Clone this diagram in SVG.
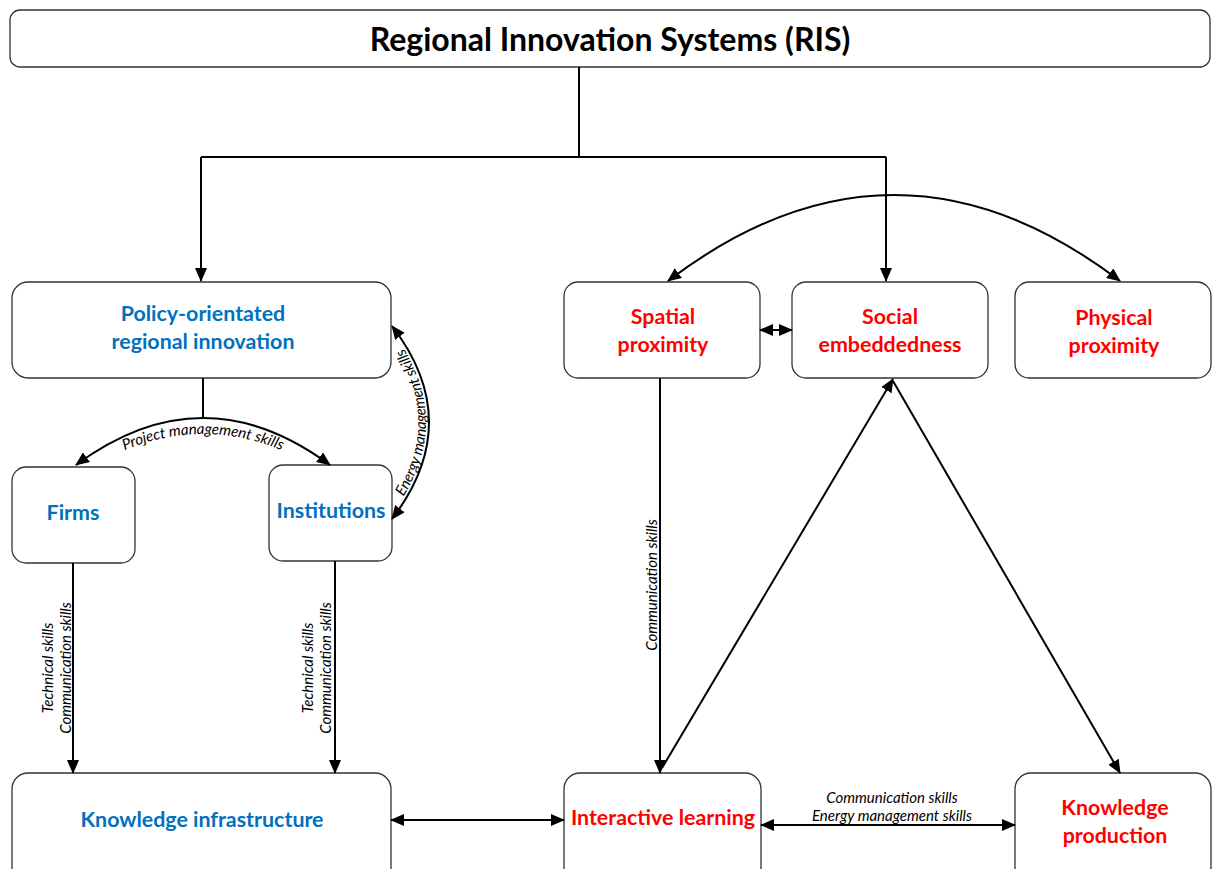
<svg xmlns="http://www.w3.org/2000/svg" width="1213" height="869" viewBox="0 0 1213 869">
<style>
.box{fill:#fff;stroke:#333;stroke-width:1.3}
.ln{fill:none;stroke:#000;stroke-width:2}
.t{font-family:Lato,"Open Sans",sans-serif;font-weight:bold;font-size:21.4px;text-anchor:middle}
.blue{fill:#0070C0}
.red{fill:#FF0000}
.lbl{font-family:Lato,"Open Sans",sans-serif;font-style:italic;font-size:15px;fill:#000}
</style>
<defs>
<marker id="ah" markerUnits="userSpaceOnUse" markerWidth="14" markerHeight="12" refX="13" refY="6" orient="auto-start-reverse" viewBox="0 0 14 12">
<path d="M0,0 L14,6 L0,12 Z" fill="#000"/>
</marker>
<path id="pmPath" d="M68,482 Q203,386 338,482"/>
<path id="emPath" d="M392,519 Q466,422 392,326"/>
</defs>
<rect width="1213" height="869" fill="#fff"/>
<g id="title">
<rect class="box" x="10" y="10" width="1200" height="57" rx="10"/>
<text x="610" y="51" font-family="Lato,'Open Sans',sans-serif" font-weight="bold" font-size="32" text-anchor="middle" fill="#000">Regional Innovation Systems (RIS)</text>
</g>
<g id="policy">
<rect class="box" x="12" y="282" width="379" height="96" rx="16"/>
<text class="t blue" x="203" y="321">Policy-orientated</text>
<text class="t blue" x="203" y="349">regional innovation</text>
</g>
<g id="firms">
<rect class="box" x="12" y="467" width="123" height="96" rx="14"/>
<text class="t blue" x="73" y="520">Firms</text>
</g>
<g id="institutions">
<rect class="box" x="269" y="465" width="123" height="96" rx="14"/>
<text class="t blue" x="331" y="518">Institutions</text>
</g>
<g id="knowledge-infrastructure">
<rect class="box" x="12" y="773" width="379" height="110" rx="16"/>
<text class="t blue" x="202" y="827">Knowledge infrastructure</text>
</g>
<g id="spatial">
<rect class="box" x="564" y="282" width="196" height="96" rx="14"/>
<text class="t red" x="663" y="324">Spatial</text>
<text class="t red" x="663" y="352">proximity</text>
</g>
<g id="social">
<rect class="box" x="792" y="282" width="196" height="96" rx="14"/>
<text class="t red" x="890" y="324">Social</text>
<text class="t red" x="890" y="352">embeddedness</text>
</g>
<g id="physical">
<rect class="box" x="1015" y="282" width="196" height="96" rx="14"/>
<text class="t red" x="1114" y="325">Physical</text>
<text class="t red" x="1114" y="353">proximity</text>
</g>
<g id="interactive">
<rect class="box" x="564" y="773" width="197" height="110" rx="16"/>
<text class="t red" x="663" y="825">Interactive learning</text>
</g>
<g id="knowledge-production">
<rect class="box" x="1015" y="773" width="196" height="110" rx="16"/>
<text class="t red" x="1115" y="815">Knowledge</text>
<text class="t red" x="1115" y="843">production</text>
</g>
<g id="connectors">
<path class="ln" d="M579,67 V157"/>
<path class="ln" d="M201,157 H886"/>
<path class="ln" d="M201,157 V281" marker-end="url(#ah)"/>
<path class="ln" d="M886,157 V281" marker-end="url(#ah)"/>
<path class="ln" d="M203,378 V418"/>
<path class="ln" d="M76,465 Q203,371 330,465" marker-start="url(#ah)" marker-end="url(#ah)"/>
<path class="ln" d="M392,326 Q466,422 392,519" marker-start="url(#ah)" marker-end="url(#ah)"/>
<path class="ln" d="M73,563 V773" marker-end="url(#ah)"/>
<path class="ln" d="M335,561 V773" marker-end="url(#ah)"/>
<path class="ln" d="M391,820 H564" marker-start="url(#ah)" marker-end="url(#ah)"/>
<path class="ln" d="M761,825 H1015" marker-start="url(#ah)" marker-end="url(#ah)"/>
<path class="ln" d="M760,330 H792" marker-start="url(#ah)" marker-end="url(#ah)"/>
<path class="ln" d="M668,281 Q894,109 1120,281" marker-start="url(#ah)" marker-end="url(#ah)"/>
<path class="ln" d="M660,378 V773" marker-end="url(#ah)"/>
<path class="ln" d="M662,768 L893,379" marker-end="url(#ah)"/>
<path class="ln" d="M893,381 L1120,773" marker-end="url(#ah)"/>
<text class="lbl" text-anchor="middle"><textPath href="#pmPath" startOffset="50%">Project management skills</textPath></text>
<text class="lbl" text-anchor="middle" dy="-3"><textPath href="#emPath" startOffset="50%">Energy management skills</textPath></text>
<text class="lbl" text-anchor="middle" transform="translate(53,668) rotate(-90)">Technical skills</text>
<text class="lbl" text-anchor="middle" transform="translate(71,668) rotate(-90)">Communication skills</text>
<text class="lbl" text-anchor="middle" transform="translate(313,668) rotate(-90)">Technical  skills</text>
<text class="lbl" text-anchor="middle" transform="translate(331,668) rotate(-90)">Communication skills</text>
<text class="lbl" text-anchor="middle" transform="translate(657,585) rotate(-90)">Communication  skills</text>
<text class="lbl" text-anchor="middle" x="892" y="803">Communication skills</text>
<text class="lbl" text-anchor="middle" x="892" y="821">Energy management skills</text>
</g>
</svg>
